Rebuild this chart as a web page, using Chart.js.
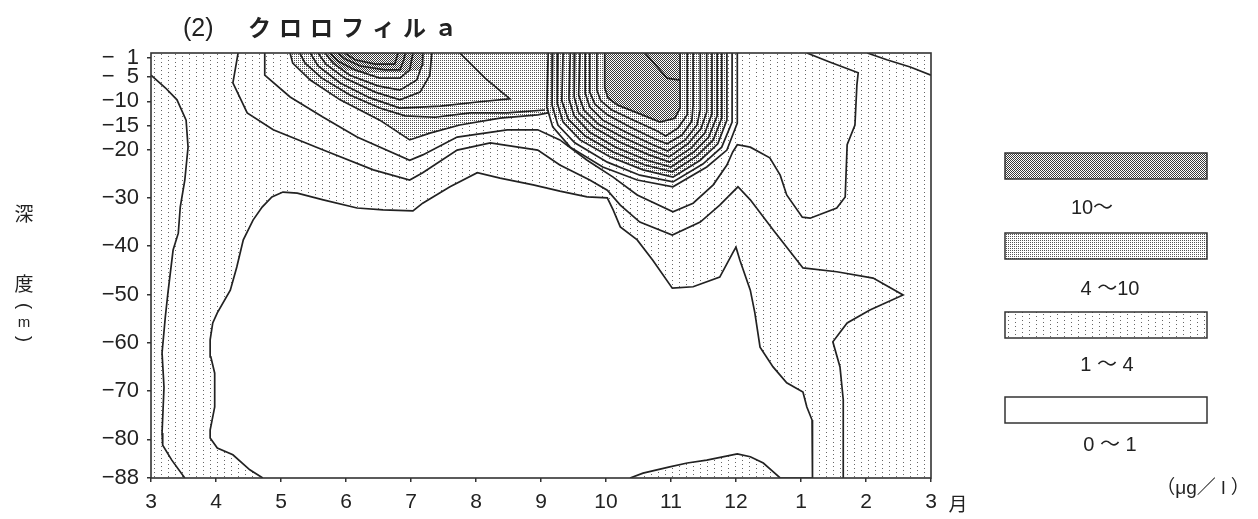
<!DOCTYPE html>
<html>
<head>
<meta charset="utf-8">
<script src="https://cdn.jsdelivr.net/npm/chart.js@4.4.0/dist/chart.umd.min.js"></script>
<style>
  html, body { margin: 0; padding: 0; background: #fff; }
  canvas { display: block; }
</style>
</head>
<body>
<canvas id="chl" width="1258" height="519"></canvas>
<script>
// Time axis: 3 = March ... 12 = December, 13 = January, 14 = February, 15 = next March
const monthTicks  = [3, 4, 5, 6, 7, 8, 9, 10, 11, 12, 13, 14, 15];
const monthLabels = ['3', '4', '5', '6', '7', '8', '9', '10', '11', '12', '1', '2', '3'];
const depthTicks  = [-1, -5, -10, -15, -20, -30, -40, -50, -60, -70, -80, -88];
const classLabels = ['10～', '4 ～10', '1 ～ 4', '0 ～ 1'];

// Contours as [month, depth m]
const westEdge = [[3.00,-4.6],[3.22,-7.2],[3.40,-9.7],[3.54,-13.9],[3.57,-19.5],[3.52,-26.3],[3.45,-31.9],[3.42,-37.3],[3.34,-40.8],[3.26,-49.7],[3.22,-54.7],[3.17,-62.1],[3.20,-69.2],[3.17,-78.7],[3.18,-81.2],[3.32,-84.3],[3.52,-88]];

// 0–1 µg/l core
const coreLow = [[4.72,-88],[4.52,-86.3],[4.26,-83.2],[4.02,-81.8],[3.91,-79.7],[3.91,-78.1],[3.98,-73.3],[3.98,-66.3],[3.92,-62.9],[3.91,-59.4],[3.95,-55.9],[4.02,-53.8],[4.22,-49.1],[4.32,-44.3],[4.42,-38.7],[4.57,-34.6],[4.71,-31.9],[4.86,-29.8],[5.03,-28.8],[5.25,-29.0],[5.65,-30.4],[6.17,-32.1],[6.57,-32.5],[7.03,-32.7],[7.18,-31.1],[7.60,-27.7],[8.02,-24.8],[8.37,-25.9],[8.88,-27.3],[9.29,-28.6],[9.71,-29.8],[10.02,-30.0],[10.11,-32.5],[10.22,-36.0],[10.48,-38.7],[10.72,-42.9],[11.02,-48.7],[11.34,-48.4],[11.75,-46.4],[11.95,-41.4],[12.00,-40.2],[12.06,-42.9],[12.22,-49.1],[12.29,-53.8],[12.37,-60.9],[12.57,-65.0],[12.78,-68.3],[13.03,-70.2],[13.09,-73.3],[13.17,-76.0],[13.18,-78.7],[13.18,-87.0],[13.17,-88],[12.68,-88],[12.57,-86.7],[12.42,-84.9],[12.22,-83.6],[12.02,-83.0],[11.55,-84.3],[11.25,-84.9],[10.98,-85.7],[10.57,-87.0],[10.37,-88]];

const bandOuter = [[4.34,0],[4.26,-6.2],[4.48,-12.4],[4.88,-15.9],[5.65,-20.1],[6.42,-24.2],[6.98,-26.3],[7.18,-24.8],[7.71,-20.1],[8.22,-18.6],[8.95,-20.1],[9.29,-23.2],[9.75,-26.3],[10.02,-28.4],[10.22,-31.5],[10.52,-35.0],[11.02,-37.7],[11.45,-35.0],[11.75,-31.5],[12.03,-27.7],[12.22,-30.4],[12.57,-36.6],[13.03,-44.5],[13.55,-45.3],[14.11,-46.6],[14.57,-50.1],[14.06,-53.2],[13.71,-55.9],[13.49,-59.8],[13.60,-65.0],[13.65,-71.8],[13.65,-88]];

const bandInner = [[4.75,0],[4.75,-4.6],[5.14,-9.1],[5.65,-13.3],[6.17,-17.4],[6.98,-22.2],[7.18,-21.1],[7.71,-17.4],[8.48,-15.9],[8.95,-15.9],[9.29,-18.0],[9.71,-22.2],[10.11,-25.7],[10.48,-29.4],[11.03,-32.9],[11.34,-31.1],[11.65,-27.3],[11.86,-23.2],[11.95,-20.5],[12.02,-19.0],[12.22,-19.5],[12.52,-21.7],[12.68,-25.3],[12.78,-29.4],[13.02,-34.0],[13.14,-34.2],[13.55,-32.1],[13.68,-29.8],[13.71,-19.0],[13.83,-14.9],[13.86,-6.6],[13.88,-4.1],[13.45,-1.9],[13.09,0]];

const eastCorner = [[14.02,0],[14.32,-1.4],[14.68,-2.9],[15.00,-4.6]];

// 4–10 µg/l boundary between the two blooms
const midUpper = [[5.14,0],[5.18,-2.1],[5.45,-5.6],[5.91,-9.7],[6.52,-13.9],[6.98,-18.0],[7.29,-16.6],[7.75,-14.9],[8.37,-13.5],[8.95,-12.8],[9.11,-12.4]];

// early-summer bloom
const june2 = [[5.29,0],[5.37,-2.1],[5.63,-5.2],[6.06,-8.7],[6.52,-11.4],[6.91,-13.0],[7.37,-13.3],[7.91,-12.4],[8.48,-12.4],[9.06,-11.8]];
const june3 = [[5.45,0],[5.57,-2.7],[5.91,-6.2],[6.37,-9.3],[6.83,-11.4],[7.45,-11.0],[8.06,-10.1],[8.52,-9.5],[8.14,-5.2],[7.75,0]];
const june4 = [[5.57,0],[5.69,-2.3],[5.98,-5.2],[6.45,-8.1],[6.83,-9.7],[7.14,-8.1],[7.29,-4.6],[7.32,0]];
const june5 = [[5.68,0],[5.80,-2.1],[6.06,-4.6],[6.49,-6.8],[6.83,-7.7],[7.09,-5.6],[7.17,-2.5],[7.18,0]];
const june6 = [[5.75,0],[5.88,-1.7],[6.14,-3.5],[6.52,-5.2],[6.83,-5.2],[6.98,-3.5],[7.03,0]];
const june7 = [[5.88,0],[5.98,-1.2],[6.22,-2.7],[6.60,-3.5],[6.83,-3.5],[6.89,-1.4],[6.91,0]];
const june8 = [[5.98,0],[6.14,-1.4],[6.45,-2.3],[6.75,-2.3],[6.80,0]];
const juneCore = [[5.72,0],[5.80,-1.9],[5.98,-3.5],[6.29,-4.1],[6.83,-4.1],[7.14,-3.5],[7.22,0]];

// autumn bloom
const oct1  = [[9.11,0],[9.09,-11.2],[9.18,-15.3],[9.45,-19.5],[9.95,-23.6],[10.48,-26.3],[11.03,-27.7],[11.55,-23.6],[11.86,-20.1],[12.02,-14.5],[12.02,0]];
const oct2  = [[9.18,0],[9.17,-10.8],[9.26,-14.9],[9.52,-18.6],[10.02,-22.6],[10.52,-25.3],[11.03,-26.7],[11.49,-23.0],[11.78,-19.5],[11.94,-14.3],[11.94,0]];
const oct3  = [[9.26,0],[9.25,-10.4],[9.34,-14.3],[9.60,-18.0],[10.06,-21.5],[10.57,-24.2],[11.03,-25.7],[11.45,-22.2],[11.72,-18.8],[11.86,-13.9],[11.86,0]];
const oct4  = [[9.34,0],[9.32,-9.9],[9.42,-13.7],[9.68,-17.2],[10.11,-20.5],[10.60,-23.2],[11.02,-24.6],[11.40,-21.3],[11.65,-18.0],[11.78,-13.5],[11.78,0]];
const oct5  = [[9.45,0],[9.43,-9.5],[9.51,-13.0],[9.75,-16.4],[10.15,-19.5],[10.63,-22.2],[11.00,-23.6],[11.35,-20.5],[11.58,-17.4],[11.71,-13.0],[11.71,0]];
const oct6  = [[9.52,0],[9.51,-9.1],[9.58,-12.4],[9.82,-15.5],[10.20,-18.4],[10.66,-21.1],[10.98,-22.6],[11.31,-19.7],[11.52,-16.6],[11.63,-12.6],[11.63,0]];
const oct7  = [[9.60,0],[9.58,-8.7],[9.66,-11.8],[9.88,-14.7],[10.25,-17.4],[10.69,-20.1],[10.97,-21.5],[11.26,-18.8],[11.46,-15.7],[11.55,-12.2],[11.55,0]];
const oct8  = [[9.68,0],[9.68,-8.3],[9.75,-11.2],[9.95,-13.9],[10.31,-16.4],[10.72,-19.0],[10.95,-20.3],[11.22,-18.0],[11.40,-14.9],[11.45,-11.8],[11.45,0]];
const oct9  = [[9.75,0],[9.75,-8.1],[9.83,-10.6],[10.02,-12.8],[10.37,-15.3],[10.75,-17.8],[10.94,-18.8],[11.17,-17.0],[11.32,-14.1],[11.34,-10.8],[11.34,0]];
const oct10 = [[9.86,0],[9.86,-7.7],[9.92,-9.9],[10.09,-11.8],[10.45,-14.1],[10.78,-16.1],[10.92,-17.2],[11.11,-15.5],[11.25,-12.8],[11.25,-9.7],[11.25,0]];
const octCore = [[9.98,0],[9.98,-7.2],[10.03,-9.3],[10.18,-10.8],[10.52,-12.6],[10.83,-14.3],[11.06,-13.5],[11.14,-11.4],[11.14,0]];
const octInner = [[10.60,0],[10.94,-5.2],[11.14,-5.6]];

// 4–10 µg/l field: the band boundary plus the lower rim of the autumn bloom
const midField = midUpper.concat(oct3.slice(2));

// ---- fill textures ----
function dotTexture(w, h, dots, color) {
  const c = document.createElement('canvas');
  c.width = w; c.height = h;
  const g = c.getContext('2d');
  g.fillStyle = '#fff';
  g.fillRect(0, 0, w, h);
  g.fillStyle = color;
  dots.forEach(([x, y]) => g.fillRect(x, y, 1, 1));
  return g.createPattern(c, 'repeat');
}
const canvas = document.getElementById('chl');
const tex = {
  low:  dotTexture(14, 8, [[0,0],[0,4],[7,2],[7,6]], '#666'),
  mid:  dotTexture(2, 2, [[0,0]], '#555'),
  high: dotTexture(2, 2, [[0,0],[1,1]], '#3a3a3a'),
  none: '#fff'
};

const LINE = '#222';
function contour(data) {
  return { data: data.map(([x, y]) => ({x, y})), showLine: true, borderColor: LINE, borderWidth: 1.7,
           pointRadius: 0, tension: 0, fill: false };
}
function area(data, texture, outlined) {
  const d = contour(data);
  d.areaFill = texture;
  if (!outlined) { d.showLine = false; }
  return d;
}

// paints the textured classes under the contour lines, using the points laid out by the scales
const classFill = {
  id: 'classFill',
  beforeDatasetsDraw(chart) {
    const {ctx, chartArea: a} = chart;
    ctx.save();
    ctx.beginPath(); ctx.rect(a.left, a.top, a.width, a.height); ctx.clip();
    ctx.fillStyle = tex.low;
    ctx.fillRect(a.left, a.top, a.width, a.height);
    chart.data.datasets.forEach((ds, i) => {
      if (!ds.areaFill) return;
      const pts = chart.getDatasetMeta(i).data;
      ctx.beginPath();
      pts.forEach((p, k) => k ? ctx.lineTo(p.x, p.y) : ctx.moveTo(p.x, p.y));
      ctx.closePath();
      ctx.fillStyle = ds.areaFill;
      ctx.fill();
    });
    ctx.restore();
  },
  afterDraw(chart) {
    const {ctx, chartArea: a} = chart;
    ctx.save();
    // frame
    ctx.strokeStyle = '#333';
    ctx.lineWidth = 1.6;
    ctx.strokeRect(a.left, a.top, a.width, a.height);

    ctx.fillStyle = '#222';
    ctx.textBaseline = 'alphabetic';
    // title
    ctx.font = '25px "Liberation Sans", sans-serif';
    ctx.textAlign = 'left';
    ctx.fillText('(2)', 183, 36);
    ctx.font = 'bold 23px "Noto Sans CJK JP", sans-serif';
    ctx.letterSpacing = '8px';
    ctx.fillText('クロロフィルａ', 248, 36);
    ctx.letterSpacing = '0px';

    // vertical axis title
    ctx.textAlign = 'center';
    ctx.textBaseline = 'middle';
    ctx.font = '19px "Noto Sans CJK JP", sans-serif';
    ctx.fillText('深', 24, 214);
    ctx.fillText('度', 24, 284);
    ctx.font = '15px "Liberation Sans", sans-serif';
    ctx.fillText('m', 24, 323);
    ['(', ')'].forEach((ch, k) => {
      ctx.save();
      ctx.translate(24, k ? 339 : 306);
      ctx.rotate(Math.PI / 2);
      ctx.font = '18px "Liberation Sans", sans-serif';
      ctx.fillText(ch, 0, 0);
      ctx.restore();
    });

    // month unit
    ctx.font = '19px "Noto Sans CJK JP", sans-serif';
    ctx.fillText('月', 958, 504);

    // class key
    const keys = [tex.high, tex.mid, tex.low, tex.none];
    const boxTop = [153, 233, 312, 397];
    const labelY = [208, 289, 365, 445];
    const labelX = [1092, 1110, 1107, 1110];
    keys.forEach((t, k) => {
      ctx.fillStyle = t;
      ctx.fillRect(1005, boxTop[k], 202, 26);
      ctx.strokeStyle = '#333';
      ctx.lineWidth = 1.5;
      ctx.strokeRect(1005, boxTop[k], 202, 26);
      ctx.fillStyle = '#222';
      ctx.font = '20px "Liberation Sans", "Noto Sans CJK JP", sans-serif';
      ctx.fillText(classLabels[k], labelX[k], labelY[k]);
    });
    ctx.font = '19px "Liberation Sans", "Noto Sans CJK JP", sans-serif';
    ctx.fillText('（μg／ l ）', 1203, 489);
    ctx.restore();
  }
};

const tickFontY = { family: '"Liberation Sans", Arial, sans-serif', size: 22 };
const tickFontX = { family: '"Liberation Sans", Arial, sans-serif', size: 21 };

new Chart(canvas, {
  type: 'scatter',
  data: {
    datasets: [
      // textured classes (painted by classFill)
      area(coreLow, tex.none, true),
      area(midField, tex.mid, false),
      area(juneCore, tex.high, false),
      area(octCore, tex.high, true),
      // contour lines
      contour(westEdge),
      contour(bandOuter),
      contour(bandInner),
      contour(eastCorner),
      contour(midUpper),
      contour(june2), contour(june3), contour(june4), contour(june5),
      contour(june6), contour(june7), contour(june8),
      contour(oct1), contour(oct2), contour(oct3), contour(oct4), contour(oct5),
      contour(oct6), contour(oct7), contour(oct8), contour(oct9), contour(oct10),
      contour(octInner)
    ]
  },
  options: {
    responsive: false,
    animation: false,
    events: [],
    layout: { padding: { left: 0, top: 53, right: 327, bottom: 0 } },
    plugins: { legend: { display: false }, tooltip: { enabled: false }, title: { display: false } },
    scales: {
      x: {
        type: 'linear', min: 3, max: 15,
        afterBuildTicks: s => { s.ticks = monthTicks.map(v => ({ value: v })); },
        afterFit: s => { s.height = 41; },
        ticks: { callback: (v, i) => monthLabels[i], autoSkip: false, maxRotation: 0,
                 font: tickFontX, color: '#222', padding: 8 },
        grid: { display: true, drawOnChartArea: false, tickLength: 4, color: '#333', lineWidth: 1.5 },
        border: { display: false }
      },
      y: {
        type: 'linear', min: -88, max: 0,
        afterBuildTicks: s => { s.ticks = depthTicks.map(v => ({ value: v })); },
        afterFit: s => { s.width = 151; },
        ticks: { callback: v => '−' + (Math.abs(v) < 10 ? '\u2007' + Math.abs(v) : Math.abs(v)),
                 autoSkip: false, font: tickFontY, color: '#222', padding: 8 },
        grid: { display: true, drawOnChartArea: false, tickLength: 4, color: '#333', lineWidth: 1.5 },
        border: { display: false }
      }
    }
  },
  plugins: [classFill]
});
</script>
</body>
</html>
